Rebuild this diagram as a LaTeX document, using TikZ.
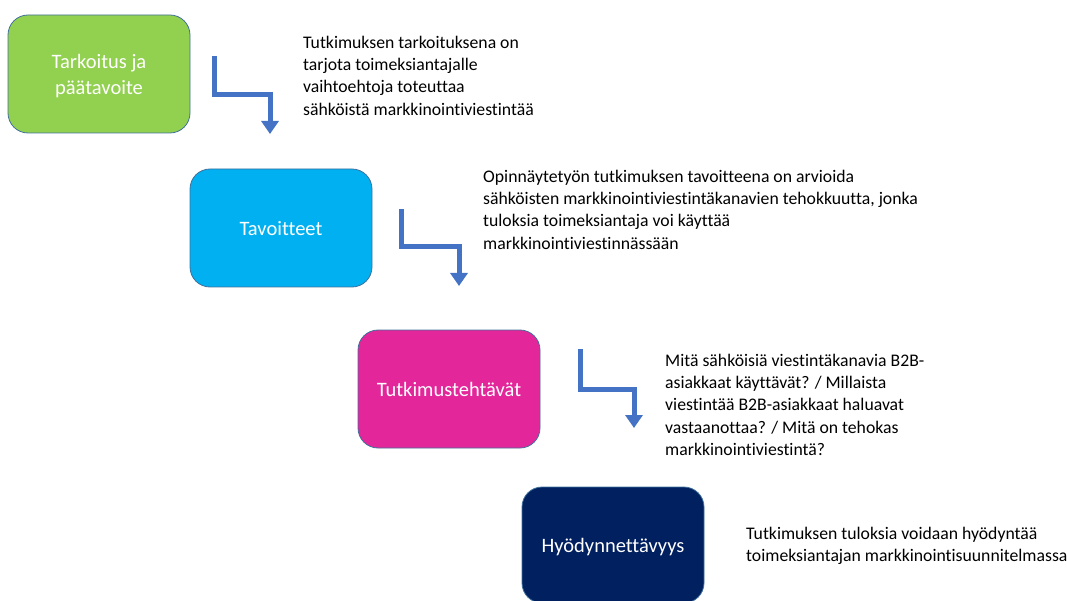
\documentclass[tikz,border=0pt]{standalone}
\usepackage{fontspec}
\setmainfont{Carlito}[Ligatures=CommonOff]
\usetikzlibrary{arrows.meta}
\definecolor{cgreen}{HTML}{92D050}
\definecolor{cblue}{HTML}{00B0F0}
\definecolor{cmag}{HTML}{E3269A}
\definecolor{cnavy}{HTML}{002060}
\definecolor{cborder}{HTML}{41719C}
\definecolor{carrow}{HTML}{4472C4}
\tikzset{
  box/.style={draw=cborder, line width=0.8pt, rounded corners=20pt, minimum width=182pt, minimum height=118pt,
    text=white, font=\fontsize{20.5}{26}\selectfont, align=center, inner sep=0pt, text depth=-3pt},
  desc/.style={anchor=north west, align=left, inner sep=0pt, font=\fontsize{17.7}{22.2}\selectfont, text=black},
  elbow/.style={draw=carrow, line width=5pt, -{Triangle[width=17pt,length=13pt]}, line join=miter}
}
\begin{document}
\begin{tikzpicture}[x=1pt,y=-1pt]
\useasboundingbox (0,0) rectangle (1067,601);
\node[box, fill=cgreen] (b1) at (99,74) {Tarkoitus ja\\päätavoite};
\node[box, fill=cblue] (b2) at (281,228) {Tavoitteet};
\node[box, fill=cmag] (b3) at (449,389) {Tutkimustehtävät};
\node[box, fill=cnavy, minimum height=116pt] (b4) at (613,545) {Hyödynnettävyys};
\node[desc] (t1) at (303,36) {Tutkimuksen tarkoituksena on\\tarjota toimeksiantajalle\\vaihtoehtoja toteuttaa\\sähköistä markkinointiviestintää};
\node[desc] (t2) at (483,170) {Opinnäytetyön tutkimuksen tavoitteena on arvioida\\sähköisten markkinointiviestintäkanavien tehokkuutta, jonka\\tuloksia toimeksiantaja voi käyttää\\markkinointiviestinnässään};
\node[desc] (t3) at (665,354) {Mitä sähköisiä viestintäkanavia B2B-\\asiakkaat käyttävät? / Millaista\\viestintää B2B-asiakkaat haluavat\\vastaanottaa? / Mitä on tehokas\\markkinointiviestintä?};
\node[desc] (t4) at (746,527) {Tutkimuksen tuloksia voidaan hyödyntää\\toimeksiantajan markkinointisuunnitelmassa};
\coordinate (a1s) at (214,56); \coordinate (a1e) at (270,134);
\coordinate (a2s) at (401,209); \coordinate (a2e) at (459,286);
\coordinate (a3s) at (580,349); \coordinate (a3e) at (634,428);
\draw[elbow] (a1s) -- (214,95) -- (270,95) -- (a1e);
\draw[elbow] (a2s) -- (401,247) -- (459,247) -- (a2e);
\draw[elbow] (a3s) -- (580,389) -- (634,389) -- (a3e);
\end{tikzpicture}
\end{document}
